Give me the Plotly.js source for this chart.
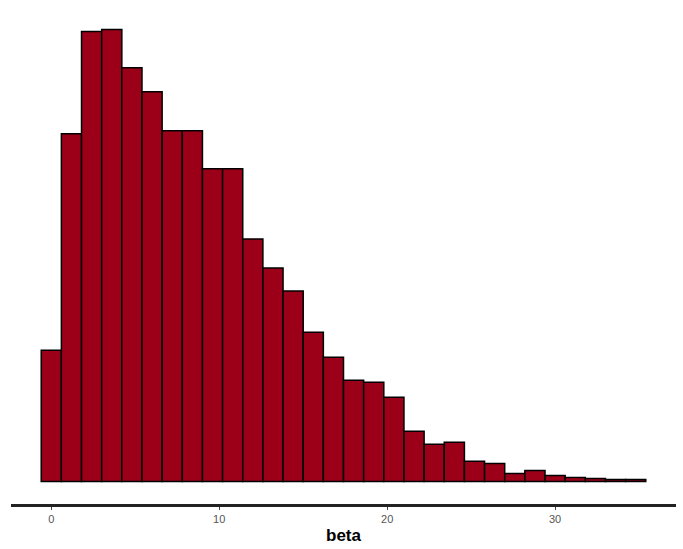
<!DOCTYPE html>
<html>
<head>
<meta charset="utf-8">
<script src="https://cdn.plot.ly/plotly-3.0.1.min.js"></script>
<style>html,body{margin:0;padding:0;background:#fff;}#chart{width:683px;height:549px;}</style>
</head>
<body>
<div id="chart"></div>
<script>
// Histogram of beta: bin centres (width 1.2) and counts
const binCenters = [0, 1.2, 2.4, 3.6, 4.8, 6, 7.2, 8.4, 9.6, 10.8, 12, 13.2, 14.4, 15.6, 16.8, 18, 19.2, 20.4, 21.6, 22.8, 24, 25.2, 26.4, 27.6, 28.8, 30, 31.2, 32.4, 33.6, 34.8];
const counts = [131, 347, 449, 451, 413, 389, 350, 350, 312, 312, 242, 213, 190, 149, 124, 101, 99, 84, 50, 37, 39, 20, 18, 8, 11, 6, 4, 3, 2, 2];
const binWidth = 1.2;
const xTicks = [0, 10, 20, 30];
const xLabel = "beta";

const maxCount = Math.max(...counts);
const pad = maxCount * 0.05;

const trace = {
  type: 'bar',
  x: binCenters,
  y: counts,
  width: binWidth,
  marker: {color: '#9c0019', line: {color: '#000000', width: 1.5}},
  hoverinfo: 'x+y'
};

const layout = {
  width: 683, height: 549,
  margin: {l: 11, r: 7, t: 7, b: 45},
  paper_bgcolor: '#ffffff', plot_bgcolor: '#ffffff',
  showlegend: false,
  bargap: 0,
  font: {family: 'Liberation Sans, Arial, sans-serif'},
  xaxis: {
    range: [-2.4, 37.2],
    tickvals: xTicks,
    ticktext: xTicks.map(String),
    showgrid: false, zeroline: false,
    showline: true, linecolor: '#222222', linewidth: 2.5,
    ticks: 'outside', ticklen: 3, tickwidth: 1, tickcolor: '#444444',
    tickfont: {size: 11, color: '#555555'},
    title: {text: '<b>' + xLabel + '</b>', font: {size: 17, color: '#000000'}, standoff: 6}
  },
  yaxis: {
    visible: false,
    range: [-pad, maxCount + pad],
    showgrid: false, zeroline: false
  }
};

Plotly.newPlot('chart', [trace], layout, {displayModeBar: false, staticPlot: true});
</script>
</body>
</html>
